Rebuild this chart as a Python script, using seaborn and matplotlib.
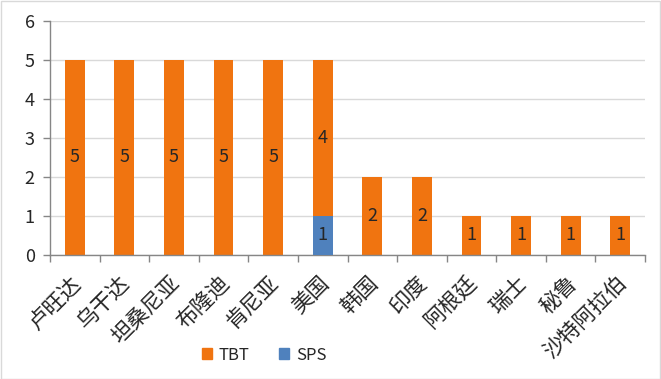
import matplotlib
matplotlib.use("Agg")
import matplotlib.pyplot as plt
import matplotlib.transforms as mtransforms
import seaborn as sns
import pandas as pd
import numpy as np

categories = ["卢旺达", "乌干达", "坦桑尼亚", "布隆迪", "肯尼亚", "美国", "韩国", "印度", "阿根廷", "瑞士", "秘鲁", "沙特阿拉伯"]
tbt = [5, 5, 5, 5, 5, 4, 2, 2, 1, 1, 1, 1]
sps = [0, 0, 0, 0, 0, 1, 0, 0, 0, 0, 0, 0]

sns.set_theme(style="white")
plt.rcParams['font.family'] = ['Noto Sans CJK SC', 'DejaVu Sans']

orange = "#F07410"
blue = "#4F81BD"
txt = "#262626"

df = pd.DataFrame({"cat": categories, "tbt": tbt, "sps": sps})
df["total"] = df["tbt"] + df["sps"]

fig = plt.figure(figsize=(6.61, 3.79), dpi=100)
ax = fig.add_axes([50/661, 1-255/379, 595/661, 234/379])

sns.barplot(data=df, x="cat", y="total", color=orange, saturation=1, width=0.4, ax=ax, zorder=2, linewidth=0, edgecolor="none")
sns.barplot(data=df, x="cat", y="sps", color=blue, saturation=1, width=0.4, ax=ax, zorder=3, linewidth=0, edgecolor="none")

for i, (t, s) in enumerate(zip(tbt, sps)):
    if t > 0:
        ax.text(i, s + t / 2, str(t), ha="center", va="center", fontsize=13, color=txt, zorder=4)
    if s > 0:
        ax.text(i, s / 2, str(s), ha="center", va="center", fontsize=13, color=txt, zorder=4)

ax.set_ylim(0, 6)
ax.set_xlim(-0.5, len(categories) - 0.5)
ax.set_yticks(range(0, 7))
ax.yaxis.grid(True, color="#D9D9D9", linewidth=1, zorder=0)
ax.set_axisbelow(True)
ax.set_xlabel("")
ax.set_ylabel("")

for side in ["top", "right"]:
    ax.spines[side].set_visible(False)
for side in ["left", "bottom"]:
    ax.spines[side].set_color("#868686")
    ax.spines[side].set_linewidth(1)

ax.set_xticks(range(len(categories)))
ax.set_xticklabels(categories, rotation=45, ha="right", va="top", rotation_mode="anchor", fontsize=15.5, color=txt)
ax.set_xticks(np.arange(-0.5, len(categories), 1), minor=True)
ax.tick_params(axis="x", which="major", length=0, pad=12)
ax.tick_params(axis="x", which="minor", length=5, color="#868686", width=1, bottom=True)
ax.tick_params(axis="y", length=5, color="#868686", width=1, left=True, labelsize=13, labelcolor=txt, pad=6)

shift = mtransforms.ScaledTranslation(-5/100, 0, fig.dpi_scale_trans)
for lab in ax.get_xticklabels():
    lab.set_transform(lab.get_transform() + shift)

from matplotlib.patches import Patch
handles = [Patch(color=orange, label="TBT"), Patch(color=blue, label="SPS")]
fig.legend(handles=handles, loc="center", bbox_to_anchor=(264/661, 1-355/379), ncol=2, frameon=False,
           fontsize=12, handlelength=0.6, handleheight=0.6, columnspacing=1.8, handletextpad=0.4)
for t in fig.legends[0].get_texts():
    t.set_color(txt)

fig.patches.append(plt.Rectangle((0.001, 0.001), 0.997, 0.996, transform=fig.transFigure,
                                 fill=False, edgecolor="#D9D9D9", linewidth=1))

fig.savefig("out.png", dpi=100)
